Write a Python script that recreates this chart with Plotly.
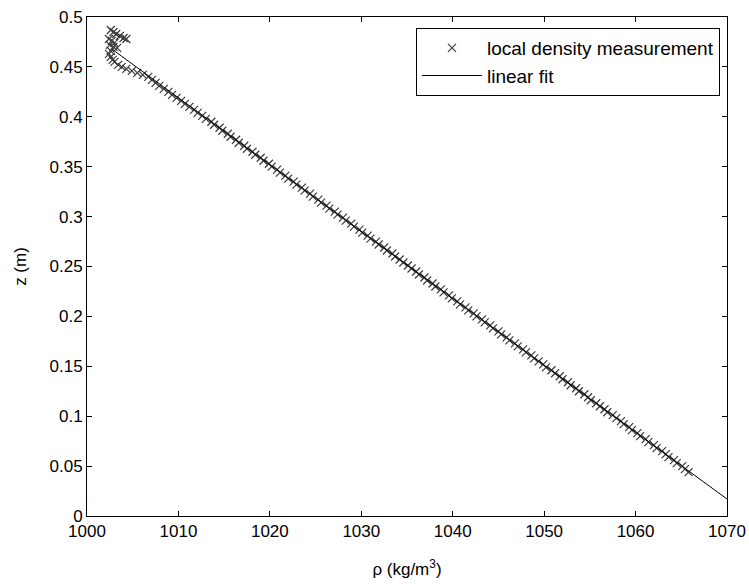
import plotly.graph_objects as go

meas_z = [
    0.044, 0.047, 0.050, 0.053, 0.056, 0.059, 0.062, 0.065, 0.068, 0.071,
    0.074, 0.077, 0.080, 0.083, 0.086, 0.089, 0.092, 0.095, 0.098, 0.101,
    0.104, 0.107, 0.110, 0.113, 0.116, 0.119, 0.122, 0.125, 0.128, 0.131,
    0.134, 0.137, 0.140, 0.143, 0.146, 0.149, 0.152, 0.155, 0.158, 0.161,
    0.164, 0.167, 0.170, 0.173, 0.176, 0.179, 0.182, 0.185, 0.188, 0.191,
    0.194, 0.197, 0.200, 0.203, 0.206, 0.209, 0.212, 0.215, 0.218, 0.221,
    0.224, 0.227, 0.230, 0.233, 0.236, 0.239, 0.242, 0.245, 0.248, 0.251,
    0.254, 0.257, 0.260, 0.263, 0.266, 0.269, 0.272, 0.275, 0.278, 0.281,
    0.284, 0.287, 0.290, 0.293, 0.296, 0.299, 0.302, 0.305, 0.308, 0.311,
    0.314, 0.317, 0.320, 0.323, 0.326, 0.329, 0.332, 0.335, 0.338, 0.341,
    0.344, 0.347, 0.350, 0.353, 0.356, 0.359, 0.362, 0.365, 0.368, 0.371,
    0.374, 0.377, 0.380, 0.383, 0.386, 0.389, 0.392, 0.395, 0.398, 0.401,
    0.404, 0.407, 0.410, 0.413, 0.416, 0.419, 0.422, 0.425, 0.428, 0.431,
    0.434, 0.437,
    0.440, 0.442, 0.444, 0.446, 0.448, 0.450, 0.452, 0.455, 0.457, 0.460,
    0.463, 0.466, 0.469, 0.470, 0.472, 0.474, 0.476, 0.478, 0.478, 0.479,
    0.481, 0.483, 0.485, 0.487,
]
meas_rho = [
    1065.8, 1065.4, 1065.1, 1064.5, 1064.2, 1063.6, 1063.3, 1062.9, 1062.3, 1062.0,
    1061.4, 1061.1, 1060.5, 1060.2, 1059.6, 1059.3, 1058.7, 1058.4, 1057.9, 1057.5,
    1056.9, 1056.6, 1056.1, 1055.7, 1055.1, 1054.8, 1054.4, 1053.8, 1053.5, 1052.9,
    1052.6, 1052.0, 1051.7, 1051.2, 1050.8, 1050.2, 1049.9, 1049.4, 1048.9, 1048.6,
    1048.0, 1047.7, 1047.1, 1046.8, 1046.2, 1045.9, 1045.3, 1045.0, 1044.4, 1044.1,
    1043.5, 1043.2, 1042.6, 1042.3, 1041.7, 1041.4, 1040.8, 1040.5, 1039.9, 1039.6,
    1039.0, 1038.7, 1038.1, 1037.8, 1037.2, 1036.9, 1036.3, 1036.0, 1035.5, 1035.1,
    1034.6, 1034.2, 1033.7, 1033.4, 1032.8, 1032.5, 1031.9, 1031.6, 1031.0, 1030.7,
    1030.1, 1029.8, 1029.2, 1028.9, 1028.3, 1028.0, 1027.4, 1027.1, 1026.5, 1026.2,
    1025.6, 1025.3, 1024.7, 1024.4, 1023.8, 1023.5, 1022.9, 1022.6, 1022.0, 1021.7,
    1021.1, 1020.8, 1020.2, 1019.9, 1019.3, 1019.0, 1018.4, 1018.1, 1017.5, 1017.2,
    1016.6, 1016.3, 1015.7, 1015.4, 1014.8, 1014.5, 1013.9, 1013.6, 1013.0, 1012.6,
    1012.1, 1011.7, 1011.2, 1010.7, 1010.3, 1009.8, 1009.3, 1008.9, 1008.4, 1007.9,
    1007.5, 1007.1,
    1006.7, 1006.1, 1005.5, 1004.9, 1004.3, 1003.8, 1003.4, 1003.0, 1002.8, 1002.6,
    1002.4, 1002.6, 1003.3, 1002.9, 1002.5, 1003.0, 1002.7, 1002.4, 1004.3, 1004.0,
    1003.6, 1003.2, 1002.9, 1002.6,
]

# Linear fit end points
fit_rho = [1002.7, 1070.0]
fit_z = [0.468, 0.017]

x_ticks = [1000, 1010, 1020, 1030, 1040, 1050, 1060, 1070]
y_ticks = [0, 0.05, 0.1, 0.15, 0.2, 0.25, 0.3, 0.35, 0.4, 0.45, 0.5]
y_tick_text = ["0", "0.05", "0.1", "0.15", "0.2", "0.25", "0.3", "0.35", "0.4", "0.45", "0.5"]

FONT = "Liberation Sans, Arial, sans-serif"

fig = go.Figure()
fig.add_trace(go.Scatter(
    x=meas_rho, y=meas_z, mode="markers", name="local density measurement",
    marker=dict(symbol="x-thin", size=8, color="#3a3a3a",
                line=dict(width=1.2, color="#3a3a3a")),
))
fig.add_trace(go.Scatter(
    x=fit_rho, y=fit_z, mode="lines", name="linear fit",
    line=dict(color="black", width=1),
))

axis_common = dict(
    showline=True, linecolor="black", linewidth=1, mirror="ticks",
    ticks="inside", ticklen=5, tickcolor="black", tickwidth=1,
    showgrid=False, zeroline=False, automargin=False,
    tickfont=dict(family=FONT, size=17, color="black"),
)

fig.update_xaxes(range=[1000, 1070], tickvals=x_ticks,
                 title=dict(text="ρ (kg/m<sup>3</sup>)", standoff=22,
                            font=dict(family=FONT, size=17, color="black")),
                 **axis_common)
fig.update_yaxes(range=[0, 0.5], tickvals=y_ticks, ticktext=y_tick_text,
                 title=dict(text="z (m)", standoff=18,
                            font=dict(family=FONT, size=17, color="black")),
                 **axis_common)

fig.update_layout(
    width=749, height=584,
    margin=dict(l=87, r=22, t=17, b=68),
    paper_bgcolor="white", plot_bgcolor="white",
    showlegend=True,
    legend=dict(x=0.989, y=0.978, xanchor="right", yanchor="top",
                bgcolor="white", bordercolor="black", borderwidth=1,
                font=dict(family=FONT, size=19, color="black"),
                tracegroupgap=0, itemwidth=60),
)

fig.write_html("out.html")
